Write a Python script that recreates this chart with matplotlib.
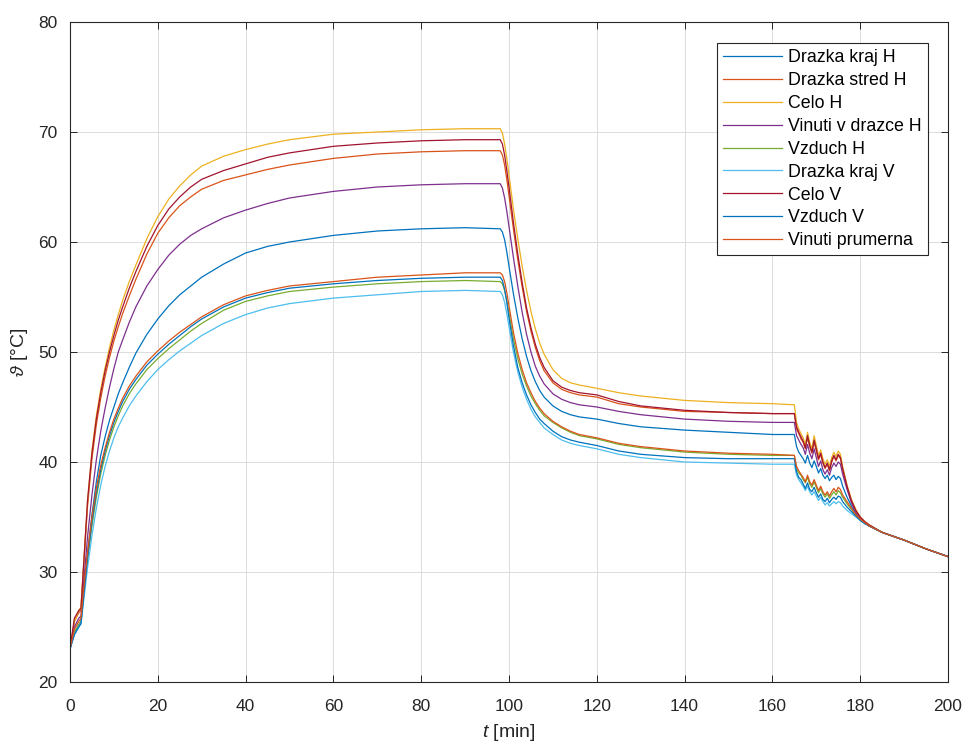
import matplotlib
matplotlib.use("Agg")
from matplotlib import pyplot as plt

plt.rcParams['font.family'] = ['Liberation Sans', 'DejaVu Sans']
plt.rcParams['mathtext.fontset'] = 'custom'
plt.rcParams['mathtext.it'] = 'Liberation Sans:italic'
plt.rcParams['mathtext.rm'] = 'Liberation Sans'

# time axis [min]
t = [0, 1, 2, 2.5, 3, 4, 5, 6, 7, 8, 9, 10, 11, 12, 13.5, 15, 17.5, 20, 22.5, 25, 27.5, 30, 35, 40, 45, 50, 60, 70, 80, 90, 98,
     98.5, 99, 99.5, 100, 101, 102, 103, 104, 105, 106, 107, 108, 110, 112, 114, 116, 120, 125, 130, 140, 150, 160,
     165, 165.5, 166, 166.5, 167, 167.5, 168, 168.5, 169, 169.5, 170, 170.5, 171, 171.5,
     172, 172.5, 173, 173.5, 174, 174.5, 175, 175.5, 176,
     177, 178, 179, 180, 181, 182, 185, 190, 195, 200]

# measured temperatures [degC]
drazka_kraj_H = [23, 24.5, 25.2, 25.5, 27.5, 31.7, 35.2, 38.2, 40.6, 42.3, 43.8, 45.0, 46.2, 47.2, 48.6, 49.9, 51.6, 53.0, 54.2, 55.2, 56.0, 56.8, 58.0, 59.0, 59.6, 60.0, 60.6, 61.0, 61.2, 61.3, 61.2,
                 60.9, 60.2, 59.1, 57.8, 55.3, 53.1, 51.2, 49.6, 48.3, 47.3, 46.5, 45.9, 45.1, 44.6, 44.3, 44.1, 43.9, 43.5, 43.2, 42.9, 42.7, 42.5,
                 42.5, 41.4, 40.9, 40.6, 40.3, 39.9, 40.6, 39.9, 39.5, 40.1, 39.6, 39.0, 39.4, 38.8,
                 38.5, 38.8, 38.3, 38.6, 38.8, 38.4, 38.7, 38.5, 37.8,
                 36.8, 36.0, 35.3, 34.8, 34.5, 34.2, 33.6, 32.9, 32.1, 31.4]
drazka_stred_H = [23, 25.5, 26.3, 26.5, 29.8, 36.0, 40.3, 43.4, 45.8, 47.8, 49.5, 51.0, 52.3, 53.5, 55.1, 56.6, 58.9, 60.8, 62.2, 63.3, 64.1, 64.8, 65.6, 66.1, 66.6, 67.0, 67.6, 68.0, 68.2, 68.3, 68.3,
                  67.9, 67.0, 65.7, 64.2, 61.2, 58.4, 55.9, 53.7, 51.9, 50.4, 49.2, 48.3, 47.2, 46.6, 46.3, 46.1, 45.9, 45.3, 45.0, 44.6, 44.5, 44.4,
                  44.4, 43.0, 42.6, 42.1, 41.8, 41.2, 42.2, 41.4, 40.8, 41.8, 41.0, 40.2, 40.7, 39.9,
                  39.4, 39.8, 39.2, 40.0, 40.5, 40.1, 40.6, 40.3, 39.3,
                  37.7, 36.4, 35.5, 34.9, 34.5, 34.2, 33.6, 32.9, 32.1, 31.4]
celo_H = [23, 25.5, 26.5, 26.8, 30.0, 36.5, 41.0, 44.2, 46.6, 48.6, 50.4, 52.0, 53.4, 54.7, 56.4, 57.9, 60.3, 62.3, 63.9, 65.1, 66.1, 66.9, 67.8, 68.4, 68.9, 69.3, 69.8, 70.0, 70.2, 70.3, 70.3,
          69.9, 68.9, 67.6, 66.1, 63.0, 60.3, 57.8, 55.6, 53.7, 52.1, 50.8, 49.8, 48.4, 47.6, 47.2, 47.0, 46.7, 46.3, 46.0, 45.6, 45.4, 45.3,
          45.2, 43.6, 43.0, 42.6, 42.2, 41.6, 42.7, 41.8, 41.2, 42.4, 41.5, 40.6, 41.1, 40.3,
          39.8, 40.2, 39.6, 40.4, 40.9, 40.5, 41.0, 40.7, 39.6,
          37.9, 36.6, 35.7, 35.0, 34.6, 34.3, 33.6, 32.9, 32.1, 31.4]
vinuti_drazka_H = [23, 25.0, 25.8, 26.0, 28.5, 33.2, 37.0, 40.2, 42.8, 44.9, 46.8, 48.5, 50.0, 51.1, 52.7, 54.1, 56.0, 57.5, 58.8, 59.8, 60.6, 61.2, 62.2, 62.9, 63.5, 64.0, 64.6, 65.0, 65.2, 65.3, 65.3,
                   64.9, 64.0, 62.8, 61.4, 58.6, 56.0, 53.6, 51.6, 50.0, 48.7, 47.8, 47.1, 46.2, 45.7, 45.4, 45.2, 45.0, 44.6, 44.3, 43.9, 43.7, 43.6,
                   43.6, 42.4, 42.0, 41.6, 41.3, 40.7, 41.6, 40.8, 40.3, 41.2, 40.4, 39.6, 40.1, 39.3,
                   38.9, 39.3, 38.8, 39.5, 39.9, 39.6, 40.0, 39.8, 38.9,
                   37.5, 36.3, 35.4, 34.9, 34.5, 34.2, 33.6, 32.9, 32.1, 31.4]
vzduch_H = [23, 24.5, 25.2, 25.5, 27.5, 31.1, 34.2, 36.8, 38.9, 40.6, 42.0, 43.2, 44.2, 45.1, 46.2, 47.1, 48.4, 49.4, 50.3, 51.1, 51.9, 52.6, 53.8, 54.6, 55.1, 55.5, 55.9, 56.2, 56.4, 56.5, 56.4,
            56.2, 55.6, 54.7, 53.5, 51.2, 49.4, 48.0, 46.9, 46.0, 45.3, 44.7, 44.2, 43.6, 43.1, 42.7, 42.4, 42.1, 41.6, 41.3, 40.9, 40.7, 40.6,
            40.6, 39.4, 39.0, 38.8, 38.4, 38.1, 38.6, 38.0, 37.7, 38.2, 37.7, 37.2, 37.6, 37.1,
            36.8, 37.1, 36.7, 37.0, 37.3, 37.0, 37.4, 37.2, 36.8,
            36.2, 35.7, 35.2, 34.8, 34.5, 34.2, 33.6, 32.9, 32.1, 31.4]
drazka_kraj_V = [23, 24.3, 25.0, 25.3, 27.0, 30.4, 33.3, 35.8, 37.9, 39.6, 41.0, 42.2, 43.2, 44.0, 45.1, 46.0, 47.3, 48.4, 49.3, 50.1, 50.8, 51.5, 52.6, 53.4, 54.0, 54.4, 54.9, 55.2, 55.5, 55.6, 55.5,
                 55.2, 54.5, 53.5, 52.3, 50.0, 48.2, 46.8, 45.7, 44.8, 44.1, 43.6, 43.1, 42.5, 42.0, 41.7, 41.5, 41.2, 40.7, 40.4, 40.0, 39.9, 39.8,
                 39.8, 38.8, 38.4, 38.1, 37.8, 37.4, 37.8, 37.3, 37.0, 37.3, 36.9, 36.5, 36.8, 36.4,
                 36.1, 36.3, 36.0, 36.2, 36.4, 36.2, 36.4, 36.3, 36.0,
                 35.6, 35.3, 35.0, 34.7, 34.4, 34.2, 33.6, 32.9, 32.1, 31.4]
celo_V = [23, 25.8, 26.5, 26.7, 30.0, 36.5, 40.8, 43.9, 46.3, 48.3, 50.0, 51.5, 52.9, 54.1, 55.8, 57.3, 59.6, 61.5, 63.0, 64.1, 65.0, 65.7, 66.5, 67.1, 67.7, 68.1, 68.7, 69.0, 69.2, 69.3, 69.3,
          68.9, 67.9, 66.5, 65.0, 61.8, 58.9, 56.3, 54.0, 52.2, 50.7, 49.5, 48.6, 47.4, 46.8, 46.5, 46.3, 46.1, 45.5, 45.1, 44.7, 44.5, 44.4,
          44.4, 43.2, 42.7, 42.3, 41.9, 41.3, 42.4, 41.5, 40.9, 42.0, 41.2, 40.3, 40.8, 40.0,
          39.5, 39.9, 39.3, 40.1, 40.6, 40.2, 40.7, 40.4, 39.4,
          37.8, 36.5, 35.6, 35.0, 34.6, 34.3, 33.6, 32.9, 32.1, 31.4]
vzduch_V = [23, 24.3, 25.0, 25.3, 27.3, 31.3, 34.6, 37.2, 39.3, 41.0, 42.4, 43.6, 44.6, 45.5, 46.6, 47.5, 48.8, 49.8, 50.7, 51.5, 52.3, 53.0, 54.1, 54.9, 55.4, 55.8, 56.2, 56.5, 56.7, 56.8, 56.8,
            56.5, 55.7, 54.5, 53.1, 50.6, 48.6, 47.2, 46.1, 45.2, 44.5, 43.9, 43.5, 42.8, 42.3, 42.0, 41.8, 41.5, 41.0, 40.7, 40.4, 40.3, 40.3,
            40.3, 39.1, 38.6, 38.4, 38.0, 37.6, 38.1, 37.5, 37.3, 37.7, 37.2, 36.8, 37.1, 36.6,
            36.4, 36.7, 36.3, 36.6, 36.8, 36.6, 36.9, 36.8, 36.4,
            35.9, 35.5, 35.1, 34.7, 34.4, 34.2, 33.6, 32.9, 32.1, 31.4]
vinuti_prumerna = [23, 24.8, 25.5, 25.8, 28.0, 31.8, 35.0, 37.6, 39.7, 41.3, 42.7, 43.9, 44.9, 45.8, 46.9, 47.8, 49.1, 50.1, 51.0, 51.8, 52.5, 53.2, 54.3, 55.1, 55.6, 56.0, 56.4, 56.8, 57.0, 57.2, 57.2,
                   57.0, 56.4, 55.4, 54.2, 51.8, 49.9, 48.4, 47.2, 46.3, 45.5, 44.9, 44.4, 43.7, 43.2, 42.8, 42.5, 42.2, 41.7, 41.4, 41.0, 40.8, 40.7,
                   40.6, 39.6, 39.2, 38.9, 38.6, 38.2, 38.8, 38.2, 37.9, 38.4, 37.9, 37.4, 37.8, 37.3,
                   37.0, 37.3, 36.9, 37.3, 37.6, 37.3, 37.7, 37.5, 37.0,
                   36.4, 35.8, 35.2, 34.8, 34.5, 34.2, 33.6, 32.9, 32.1, 31.4]

series = [drazka_kraj_H, drazka_stred_H, celo_H, vinuti_drazka_H, vzduch_H,
          drazka_kraj_V, celo_V, vzduch_V, vinuti_prumerna]
labels = ["Drazka kraj H", "Drazka stred H", "Celo H", "Vinuti v drazce H", "Vzduch H",
          "Drazka kraj V", "Celo V", "Vzduch V", "Vinuti prumerna"]
# MATLAB default colour order
colors = ["#0072BD", "#D95319", "#EDB120", "#7E2F8E", "#77AC30",
          "#4DBEEE", "#A2142F", "#0072BD", "#D95319"]

fig = plt.figure(figsize=(9.66, 7.47), dpi=100)
ax = fig.add_axes([70 / 966, 65 / 747, 878 / 966, 660 / 747])

for y, lab, c in zip(series, labels, colors):
    ax.plot(t, y, color=c, lw=0.9, label=lab)

ax.set_xlim(0, 200)
ax.set_ylim(20, 80)
ax.set_xticks(range(0, 201, 20))
ax.set_yticks(range(20, 81, 10))
ax.grid(True, color="#dcdcdc", lw=0.7)
ax.set_axisbelow(True)
ax.tick_params(direction="in", length=5, width=0.7, labelsize=12.5,
               colors="#262626", top=True, right=True)
ax.tick_params(axis="x", pad=12)
ax.tick_params(axis="y", pad=9)
for s in ax.spines.values():
    s.set_color("#262626")
    s.set_linewidth(0.8)

ax.set_xlabel(r"$t$ [min]", fontsize=14, color="#262626", labelpad=6)
ax.set_ylabel(r"$\vartheta$ [°C]", fontsize=14, color="#262626", labelpad=6)

leg = ax.legend(loc="upper right", bbox_to_anchor=(0.977, 0.968), borderaxespad=0,
                fontsize=12.8, handlelength=3.3, handletextpad=0.35,
                labelspacing=0.33, borderpad=0.35,
                fancybox=False, framealpha=1, edgecolor="#262626")
leg.get_frame().set_linewidth(0.8)

fig.savefig("out.png", dpi=100)
